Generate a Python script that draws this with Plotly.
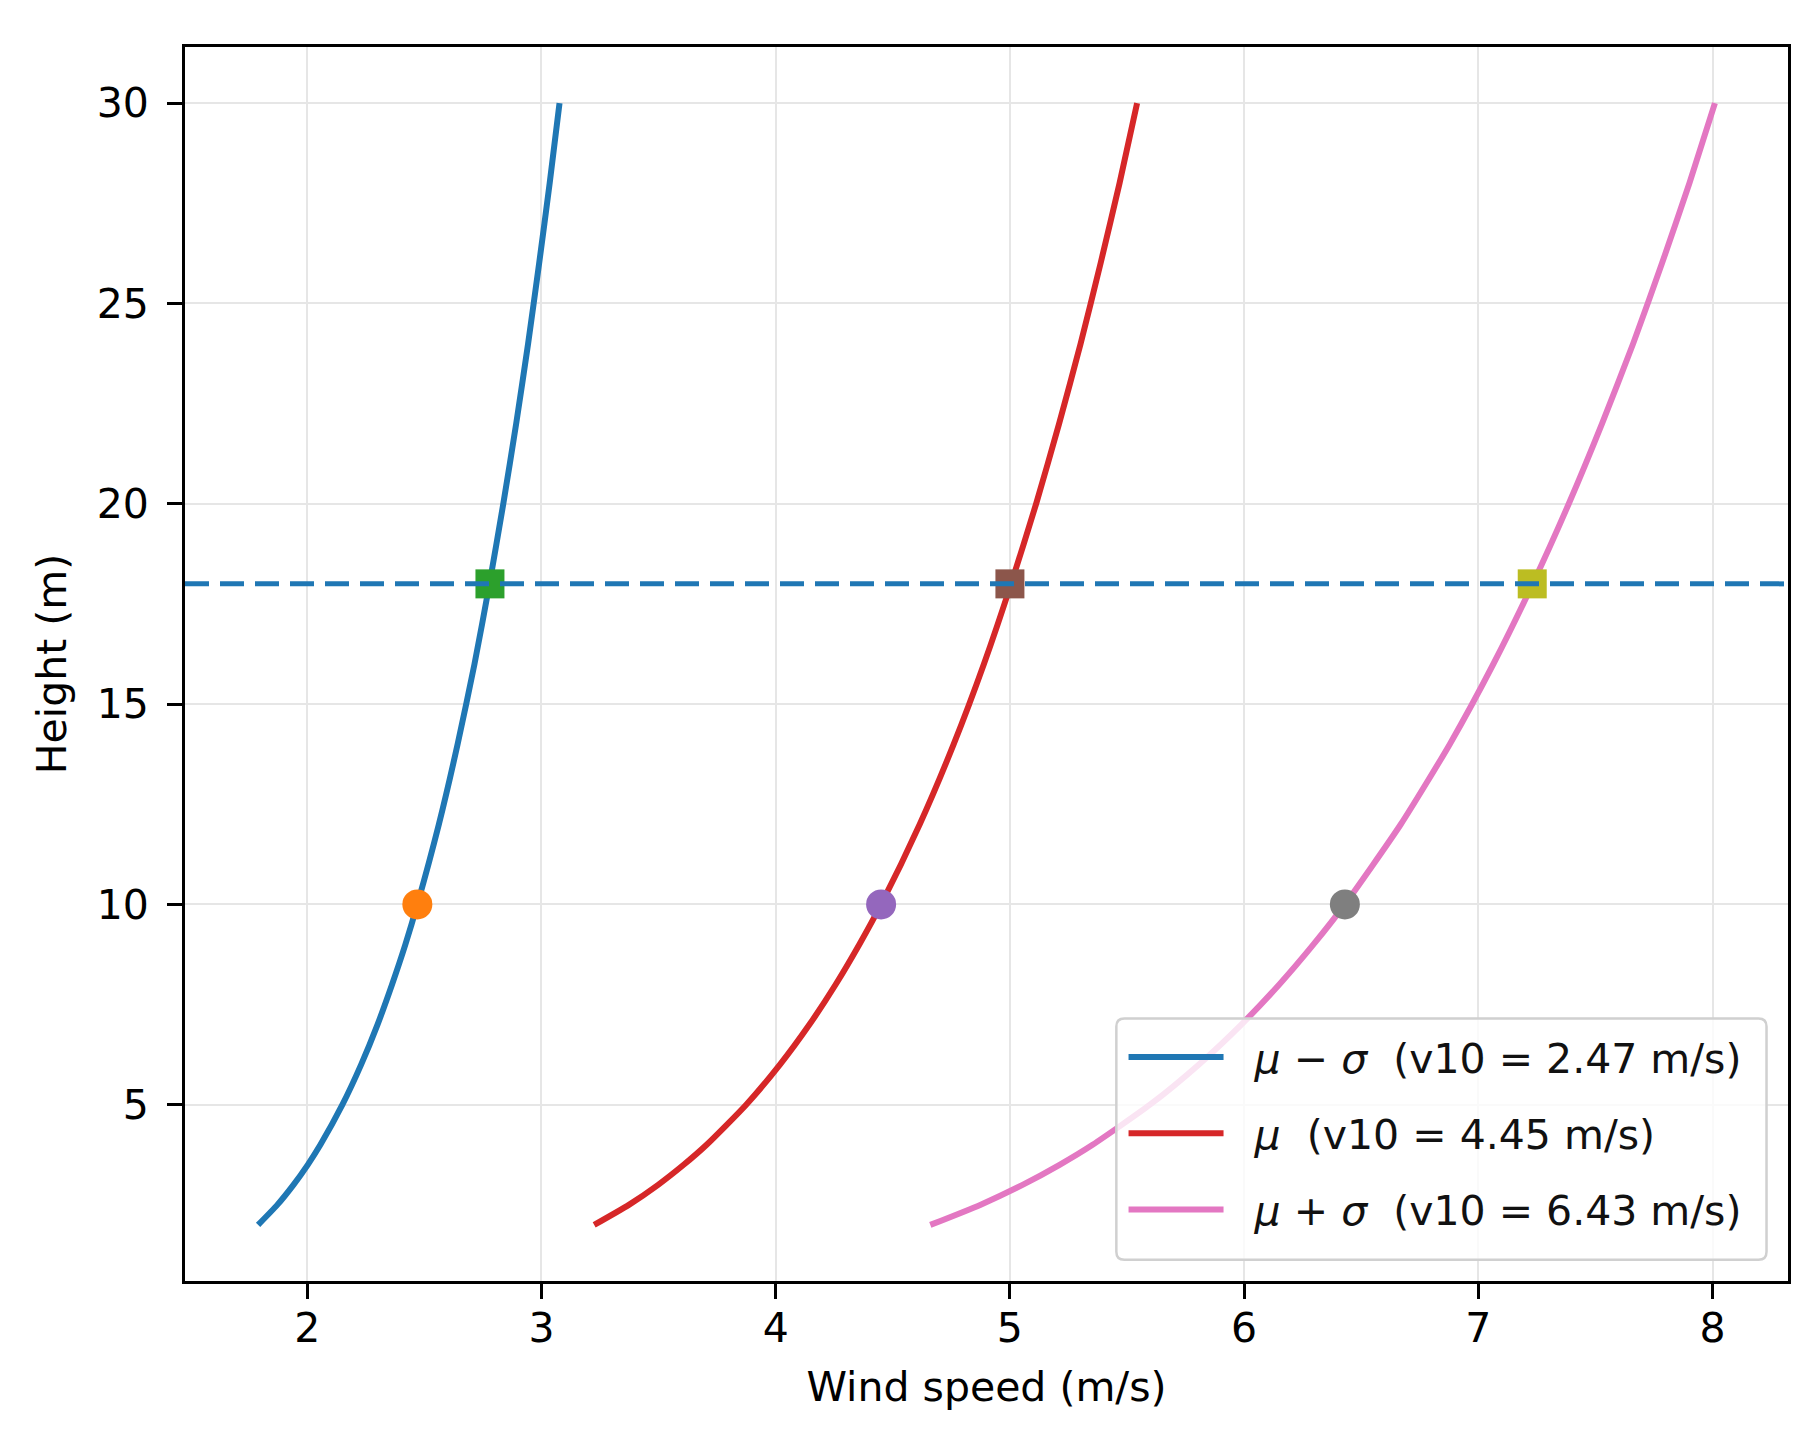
import plotly.graph_objects as go

# ---- data ----
heights = [2, 2.5, 3, 3.5, 4, 5, 6, 7, 8, 9, 10, 12, 14, 16, 18, 20, 22, 24, 26, 28, 30]
speed_low = [1.790, 1.872, 1.941, 2.002, 2.056, 2.150, 2.230, 2.300, 2.362, 2.419, 2.470,
             2.562, 2.642, 2.714, 2.778, 2.837, 2.892, 2.943, 2.990, 3.035, 3.077]
speed_mid = [3.225, 3.373, 3.498, 3.607, 3.705, 3.874, 4.018, 4.144, 4.256, 4.357, 4.450,
             4.615, 4.760, 4.889, 5.005, 5.112, 5.210, 5.302, 5.387, 5.468, 5.543]
speed_high = [4.660, 4.873, 5.054, 5.212, 5.353, 5.598, 5.806, 5.988, 6.150, 6.296, 6.430,
              6.669, 6.878, 7.064, 7.232, 7.386, 7.528, 7.661, 7.784, 7.901, 8.010]

series_names = ["<i>μ</i> − <i>σ</i>\u00a0\u00a0(v10 = 2.47 m/s)",
                "<i>μ</i>\u00a0\u00a0(v10 = 4.45 m/s)",
                "<i>μ</i> + <i>σ</i>\u00a0\u00a0(v10 = 6.43 m/s)"]
ref_height = 10
v10_values = [2.47, 4.45, 6.43]
hub_height = 18
hub_speeds = [2.78, 5.00, 7.23]

x_range = [1.478, 8.322]
y_range = [0.6, 31.4]
x_ticks = [2, 3, 4, 5, 6, 7, 8]
y_ticks = [5, 10, 15, 20, 25, 30]

line_colors = ["#1f77b4", "#d62728", "#e377c2"]
circle_colors = ["#ff7f0e", "#9467bd", "#7f7f7f"]
square_colors = ["#2ca02c", "#8c564b", "#bcbd22"]

FONT = "DejaVu Sans"
FS = 41

fig = go.Figure()
profiles = [speed_low, speed_mid, speed_high]
for i, sp in enumerate(profiles):
    fig.add_trace(go.Scatter(
        x=sp, y=heights, mode="lines",
        name="\u00a0\u00a0" + series_names[i],
        legendgroup=f"g{i}",
        line=dict(color=line_colors[i], width=6, shape="spline", smoothing=0.6),
    ))
    fig.add_trace(go.Scatter(
        x=[v10_values[i]], y=[ref_height], mode="markers", showlegend=False,
        legendgroup=f"g{i}",
        marker=dict(color=circle_colors[i], size=30, symbol="circle", line=dict(width=0)),
    ))
    fig.add_trace(go.Scatter(
        x=[hub_speeds[i]], y=[hub_height], mode="markers", showlegend=False,
        legendgroup=f"g{i}",
        marker=dict(color=square_colors[i], size=29, symbol="square", line=dict(width=0)),
    ))

# dashed hub-height line across the full axis width
fig.add_trace(go.Scatter(
    x=x_range, y=[hub_height, hub_height], mode="lines", showlegend=False,
    line=dict(color="#1f77b4", width=5, dash="24px,11px"),
))

# legend frame (rounded, semi-transparent white) drawn in paper coordinates
lx0, lx1, ly0, ly1 = 0.581, 0.9866, 0.0173, 0.2128
rx, ry = 0.005, 0.0065
frame_path = (
    f"M {lx0 + rx},{ly0} L {lx1 - rx},{ly0} Q {lx1},{ly0} {lx1},{ly0 + ry} "
    f"L {lx1},{ly1 - ry} Q {lx1},{ly1} {lx1 - rx},{ly1} "
    f"L {lx0 + rx},{ly1} Q {lx0},{ly1} {lx0},{ly1 - ry} "
    f"L {lx0},{ly0 + ry} Q {lx0},{ly0} {lx0 + rx},{ly0} Z"
)
fig.add_shape(type="path", path=frame_path, xref="paper", yref="paper",
              fillcolor="rgba(255,255,255,0.8)", line=dict(color="#d0d0d0", width=2.5),
              layer="above")

axis_common = dict(
    showline=True, linecolor="black", linewidth=3, mirror=True,
    ticks="outside", ticklen=15, tickwidth=3, tickcolor="black",
    showgrid=True, gridcolor="#e6e6e6", gridwidth=2,
    zeroline=False,
    tickfont=dict(family=FONT, size=FS, color="black"),
)

fig.update_xaxes(range=x_range, tickvals=x_ticks, ticklabelstandoff=-6,
                 title=dict(text="Wind speed (m/s)", font=dict(family=FONT, size=FS, color="black"), standoff=22),
                 **axis_common)
fig.update_yaxes(range=y_range, tickvals=y_ticks, ticklabelstandoff=10,
                 title=dict(text="Height (m)", font=dict(family=FONT, size=FS, color="black"), standoff=18),
                 **axis_common)

fig.update_layout(
    width=1804, height=1430,
    margin=dict(l=177, r=24, t=39, b=157),
    paper_bgcolor="white", plot_bgcolor="white",
    font=dict(family=FONT, size=FS, color="black"),
    legend=dict(
        x=0.5805, y=0.031, xanchor="left", yanchor="bottom",
        bgcolor="rgba(0,0,0,0)", borderwidth=0,
        font=dict(family=FONT, size=FS, color="#111111"),
        itemwidth=95, tracegroupgap=20, traceorder="grouped", indentation=8,
    ),
    showlegend=True,
)

fig.write_html("out.html")
